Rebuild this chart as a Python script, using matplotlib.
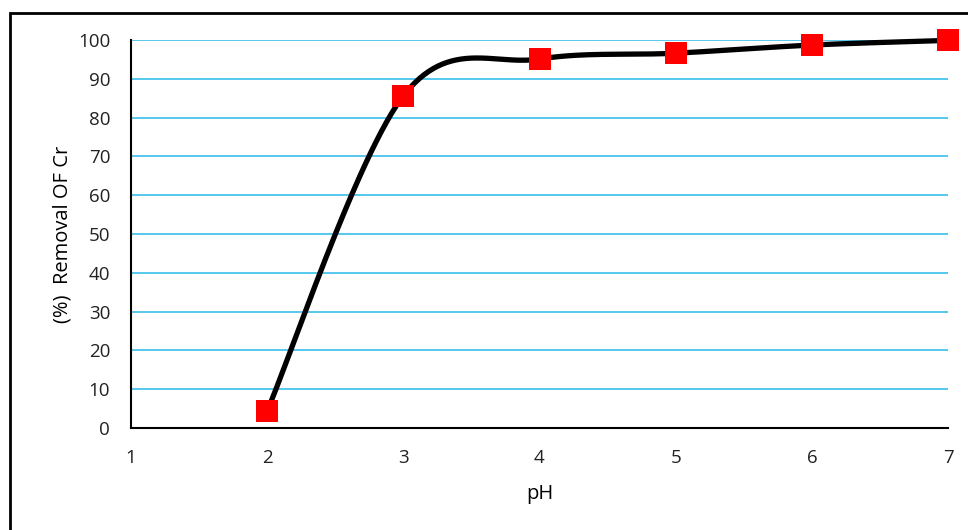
import numpy as np
import matplotlib
matplotlib.use("Agg")
import matplotlib.pyplot as plt
from matplotlib.patches import Rectangle

plt.rcParams['font.family'] = ['Open Sans', 'DejaVu Sans']

ph = [2, 3, 4, 5, 6, 7]
removal = [4.4, 85.6, 95.1, 96.6, 98.7, 99.9]
xticks = [1, 2, 3, 4, 5, 6, 7]
yticks = [0, 10, 20, 30, 40, 50, 60, 70, 80, 90, 100]

def smooth(x, y, n=60):
    x = np.asarray(x, float); y = np.asarray(y, float)
    px = np.concatenate([[x[0]], x, [x[-1]]])
    py = np.concatenate([[y[0]], y, [y[-1]]])
    t = np.linspace(0, 1, n)
    outx, outy = [], []
    k = 1 / 6
    for i in range(1, len(px) - 2):
        p0 = np.array([px[i], py[i]]); p3 = np.array([px[i + 1], py[i + 1]])
        p1 = p0 + k * (np.array([px[i + 1], py[i + 1]]) - np.array([px[i - 1], py[i - 1]]))
        p2 = p3 - k * (np.array([px[i + 2], py[i + 2]]) - np.array([px[i], py[i]]))
        b = ((1 - t) ** 3)[:, None] * p0 + (3 * (1 - t) ** 2 * t)[:, None] * p1 + \
            (3 * (1 - t) * t ** 2)[:, None] * p2 + (t ** 3)[:, None] * p3
        outx.extend(b[:, 0]); outy.extend(b[:, 1])
    return outx, outy

fig = plt.figure(figsize=(9.68, 5.30), dpi=100)
ax = fig.add_axes([131 / 968, 1 - 428 / 530, (948 - 131) / 968, (428 - 40) / 530])

ax.set_xlim(1, 7)
ax.set_ylim(0, 100)
ax.set_yticks(yticks)
ax.set_xticks(xticks)
ax.yaxis.grid(True, color='#3BBDEA', linewidth=1.2)
ax.set_axisbelow(True)
for s in ['top', 'right']:
    ax.spines[s].set_visible(False)
for s in ['left', 'bottom']:
    ax.spines[s].set_color('black')
    ax.spines[s].set_linewidth(1.5)
ax.tick_params(length=0, labelsize=13.5, colors='#222222')
ax.tick_params(axis='y', pad=15)
ax.tick_params(axis='x', pad=15)

sx, sy = smooth(ph, removal)
ax.plot(sx, sy, color='black', linewidth=3.8, solid_capstyle='round', clip_on=False, zorder=3)
ax.plot(ph, removal, linestyle='none', marker='s', markersize=15.5, color='#FF0000',
        markeredgewidth=0, clip_on=False, zorder=4)

ax.set_xlabel('pH', fontsize=14.5, labelpad=12)
ax.set_ylabel('(%)  Removal OF Cr', fontsize=14.5, labelpad=4)

fig.patches.append(Rectangle((10 / 968, -0.1), 1.2, 1 - 13 / 530 + 0.1,
                             transform=fig.transFigure, fill=False,
                             edgecolor='black', linewidth=2))

fig.savefig('out.png', dpi=100)
